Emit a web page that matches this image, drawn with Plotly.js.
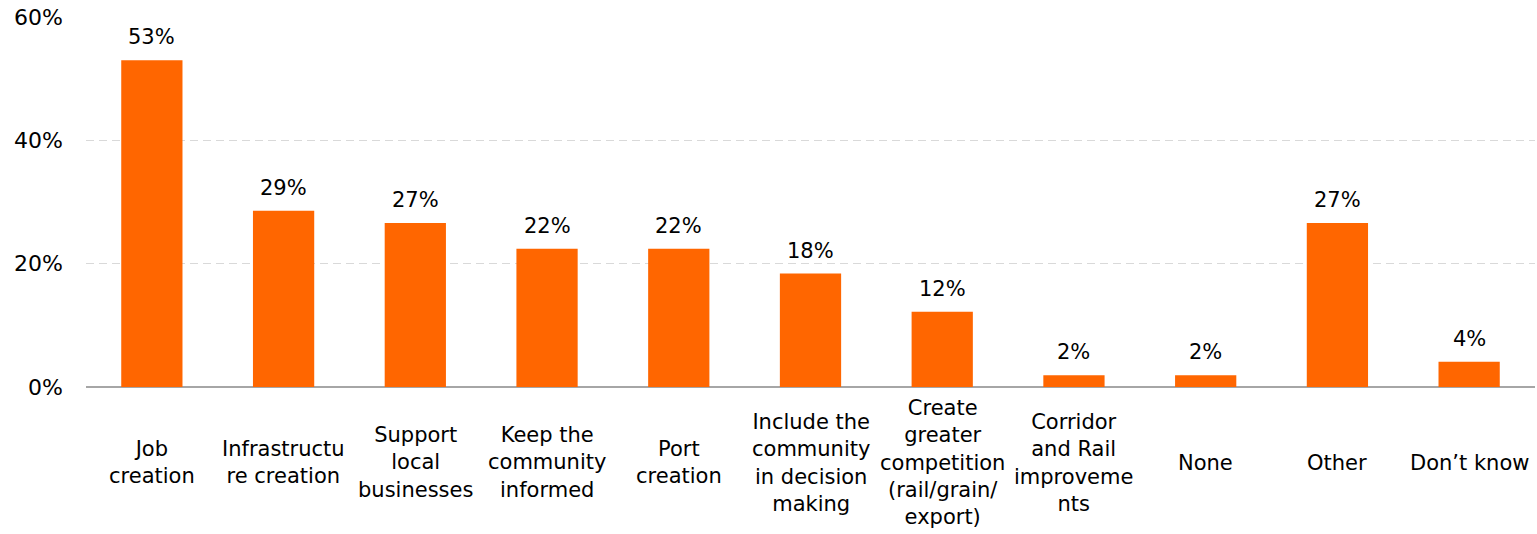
<!DOCTYPE html>
<html>
<head>
<meta charset="utf-8">
<script src="https://cdn.plot.ly/plotly-3.0.1.min.js"></script>
<style>html,body{margin:0;padding:0;background:#fff;}#chart{width:1537px;height:534px;}</style>
</head>
<body>
<div id="chart"></div>
<script>
const categories = ["Job creation","Infrastructure creation","Support local businesses","Keep the community informed","Port creation","Include the community in decision making","Create greater competition (rail/grain/export)","Corridor and Rail improvements","None","Other","Don\u2019t know"];
const tickLabels = ["Job<br>creation","Infrastructu<br>re creation","Support<br>local<br>businesses","Keep the<br>community<br>informed","Port<br>creation","Include the<br>community<br>in decision<br>making","Create<br>greater<br>competition<br>(rail/grain/<br>export)","Corridor<br>and Rail<br>improveme<br>nts","None","Other","Don\u2019t know"];
const values = [53.0, 28.6, 26.6, 22.4, 22.4, 18.4, 12.2, 1.9, 1.9, 26.6, 4.1];
const yTicks = [0, 20, 40, 60];
const yTickLabels = ["0%", "20%", "40%", "60%"];

const FONT = "DejaVu Sans, Verdana, sans-serif";
const fs = 21;

const annotations = [];
categories.forEach((c, i) => {
  annotations.push({x: c, y: values[i], xref: 'x', yref: 'y', text: Math.round(values[i]) + '%',
    showarrow: false, yanchor: 'bottom', yshift: 9, font: {family: FONT, size: fs, color: '#000'}});
  annotations.push({x: c, y: -0.205, xref: 'x', yref: 'paper', text: tickLabels[i],
    showarrow: false, yanchor: 'middle', align: 'center', font: {family: FONT, size: fs, color: '#000'}});
});

Plotly.newPlot('chart', [{
  type: 'bar', x: categories, y: values,
  marker: {color: '#FF6600'}, hoverinfo: 'none'
}], {
  width: 1537, height: 534,
  margin: {l: 86, r: 2, t: 17, b: 147},
  paper_bgcolor: '#fff', plot_bgcolor: '#fff',
  bargap: 0.535,
  showlegend: false,
  font: {family: FONT, size: fs, color: '#000'},
  xaxis: {showticklabels: false, showgrid: false, zeroline: false, showline: false, ticks: '', fixedrange: true},
  yaxis: {range: [0, 60], tickvals: yTicks, ticktext: yTickLabels, showgrid: true, gridcolor: '#d9d9d9', griddash: '8px,5px', gridwidth: 1.5,
    zeroline: true, zerolinecolor: '#a6a6a6', zerolinewidth: 2, showline: false, ticks: '', ticklabelstandoff: 22,
    tickfont: {family: FONT, size: 22, color: '#000'}, fixedrange: true},
  annotations: annotations
}, {staticPlot: true});
</script>
</body>
</html>
